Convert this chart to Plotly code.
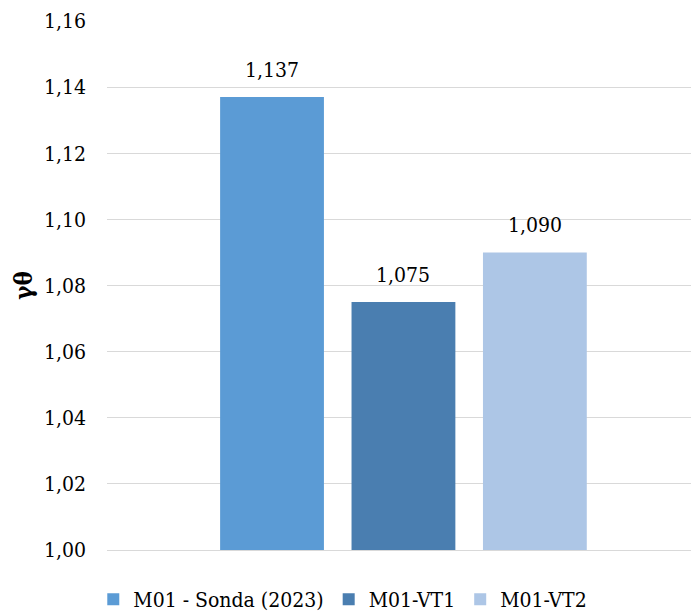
import plotly.graph_objects as go

# Unit weight ratio for each sample
series_names = ["M01 - Sonda (2023)", "M01-VT1", "M01-VT2"]
series_values = [1.137, 1.075, 1.090]
series_colors = ["#5B9BD5", "#4A7EB0", "#ADC6E6"]
category = [""]

y_ticks = [1.00, 1.02, 1.04, 1.06, 1.08, 1.10, 1.12, 1.14, 1.16]

FONT = "DejaVu Serif Condensed, DejaVu Serif"
FS = 21
BARGAP = 0.335
BARGROUPGAP = 0.21

fig = go.Figure()
for name, val, col in zip(series_names, series_values, series_colors):
    fig.add_trace(go.Bar(
        x=category, y=[val], name=name,
        marker=dict(color=col, line=dict(width=0)),
    ))

# Value labels above each bar, positioned from the group layout
n = len(series_values)
slot = (1 - BARGAP) / n
for i, val in enumerate(series_values):
    xpos = (i - (n - 1) / 2) * slot
    fig.add_annotation(
        x=xpos, y=val, xref="x", yref="y",
        text=f"{val:.3f}".replace(".", ","),
        showarrow=False, yanchor="bottom", yshift=13,
        font=dict(family=FONT, size=FS, color="#000000"),
    )

fig.update_layout(
    width=691, height=613,
    margin=dict(l=107, r=0, t=21, b=63),
    paper_bgcolor="white", plot_bgcolor="white",
    barmode="group", bargap=BARGAP, bargroupgap=BARGROUPGAP,
    separators=",.",
    font=dict(family=FONT, size=FS, color="#000000"),
    showlegend=True,
    legend=dict(
        orientation="h", xref="container", x=0.135, xanchor="left",
        yref="container", y=0.0555, yanchor="top",
        font=dict(family=FONT, size=FS, color="#000000"),
        itemwidth=30, traceorder="normal",
    ),
)

fig.update_xaxes(
    type="category", range=[-0.5, 0.485],
    showticklabels=False, showgrid=False, zeroline=False,
    showline=True, linecolor="#D9D9D9", linewidth=1.3,
)
fig.update_yaxes(
    range=[1.0, 1.16], tickvals=y_ticks, tickformat=".2f",
    showgrid=True, gridcolor="#D9D9D9", gridwidth=1.3,
    zeroline=False, showline=False, ticks="",
    ticklabelstandoff=20,
    tickfont=dict(family=FONT, size=FS, color="#000000"),
    title=dict(text="<b>γθ</b>", standoff=4,
               font=dict(family=FONT, size=24, color="#000000")),
)

fig.write_html("out.html")
